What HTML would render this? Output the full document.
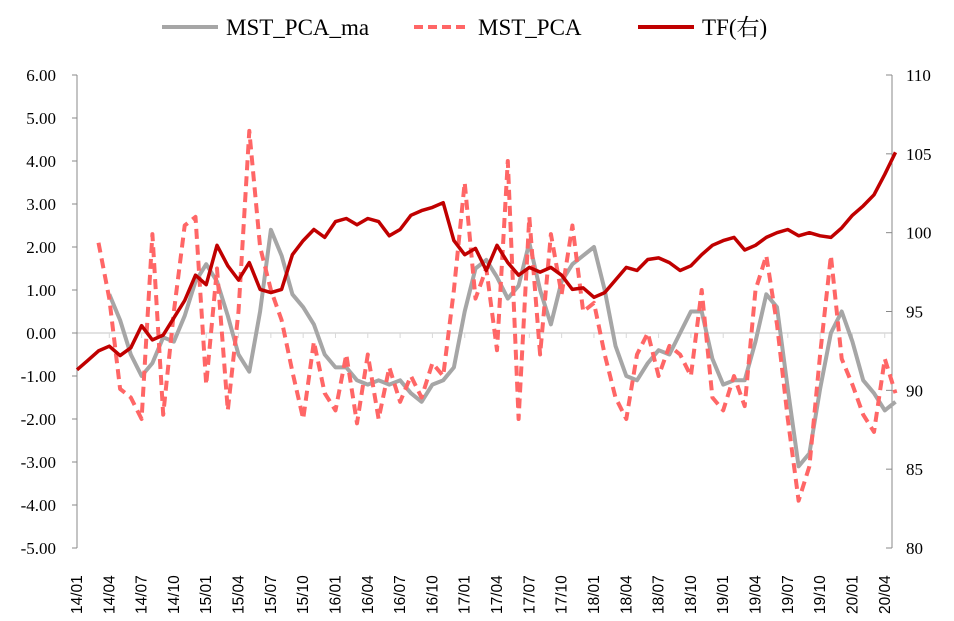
<!DOCTYPE html>
<html><head><meta charset="utf-8"><style>
body{margin:0;background:#fff;width:954px;height:621px;overflow:hidden}
svg{display:block}
.t{font-family:"Liberation Serif","Noto Serif CJK SC",serif;font-size:17px;fill:#000}
.x{font-family:"Liberation Sans",sans-serif;font-size:15.5px;fill:#000}
</style></head><body>
<svg id="c" width="954" height="621"></svg>
<script>
const months=["14/01","14/04","14/07","14/10","15/01","15/04","15/07","15/10","16/01","16/04","16/07","16/10","17/01","17/04","17/07","17/10","18/01","18/04","18/07","18/10","19/01","19/04","19/07","19/10","20/01","20/04"];
const leftTicks=[6,5,4,3,2,1,0,-1,-2,-3,-4,-5];
const rightTicks=[110,105,100,95,90,85,80];
const tf=[91.3,91.9,92.5,92.8,92.2,92.7,94.1,93.2,93.5,94.6,95.7,97.3,96.7,99.2,97.9,97.0,98.1,96.4,96.2,96.4,98.6,99.5,100.2,99.7,100.7,100.9,100.5,100.9,100.7,99.8,100.2,101.1,101.4,101.6,101.9,99.5,98.6,99.0,97.6,99.2,98.1,97.3,97.8,97.5,97.8,97.3,96.4,96.5,95.9,96.2,97.0,97.8,97.6,98.3,98.4,98.1,97.6,97.9,98.6,99.2,99.5,99.7,98.9,99.2,99.7,100.0,100.2,99.8,100.0,99.8,99.7,100.3,101.1,101.7,102.4,103.7,105.1];
const maStart=3;
const ma=[0.9,0.3,-0.5,-1.0,-0.7,-0.1,-0.2,0.4,1.2,1.6,1.2,0.4,-0.5,-0.9,0.5,2.4,1.8,0.9,0.6,0.2,-0.5,-0.8,-0.8,-1.1,-1.2,-1.1,-1.2,-1.1,-1.4,-1.6,-1.2,-1.1,-0.8,0.5,1.5,1.7,1.3,0.8,1.1,2.1,1.0,0.2,1.2,1.6,1.8,2.0,1.0,-0.3,-1.0,-1.1,-0.7,-0.4,-0.5,0.0,0.5,0.5,-0.6,-1.2,-1.1,-1.1,-0.2,0.9,0.6,-1.3,-3.1,-2.8,-1.3,0.0,0.5,-0.2,-1.1,-1.4,-1.8,-1.6];
const pcaStart=2;
const pca=[2.1,0.8,-1.3,-1.5,-2.0,2.3,-1.9,0.5,2.5,2.7,-1.2,1.5,-1.8,0.5,4.7,2.0,1.0,0.3,-0.9,-2.0,-0.2,-1.4,-1.8,-0.5,-2.1,-0.5,-2.0,-0.8,-1.6,-1.0,-1.5,-0.7,-1.0,1.0,3.5,0.8,1.5,-0.4,4.0,-2.0,2.7,-0.5,2.3,0.9,2.5,0.5,0.7,-0.5,-1.5,-2.0,-0.5,0.0,-1.0,-0.3,-0.5,-1.0,1.0,-1.5,-1.8,-1.0,-1.7,1.0,1.8,0.2,-2.0,-3.9,-3.1,-0.5,1.8,-0.6,-1.2,-1.9,-2.3,-0.6,-1.4];

const X0=77,PXM=10.77,TOP=75,BOT=548;
const xs=m=>X0+m*PXM;
const yl=v=>TOP+(6-v)*(BOT-TOP)/11;
const yr=v=>TOP+(110-v)*(BOT-TOP)/30;
const svg=document.getElementById('c');
const NS="http://www.w3.org/2000/svg";
function mk(tag,attrs,parent){const e=document.createElementNS(NS,tag);for(const k in attrs)e.setAttribute(k,attrs[k]);(parent||svg).appendChild(e);return e;}

let zl=mk('line',{x1:X0,x2:892,y1:yl(0),y2:yl(0),stroke:'#d9d9d9','stroke-width':1.5});


months.forEach((m,i)=>{
  const x=xs(i*3);
  let tk=mk('line',{x1:x,x2:x,y1:yl(0),y2:yl(0)+5,stroke:'#d9d9d9'});
  
  
  let t=mk('text',{class:'x',transform:`translate(${x+5},614) rotate(-90)`});
  t.textContent=m;
  
  
});
let la=mk('line',{x1:X0,x2:X0,y1:TOP,y2:BOT,stroke:'#888','stroke-width':1});


let ra=mk('line',{x1:892,x2:892,y1:TOP,y2:BOT,stroke:'#888','stroke-width':1});


leftTicks.forEach(v=>{
  let tk=mk('line',{x1:X0-5,x2:X0,y1:yl(v),y2:yl(v),stroke:'#888'});
  
  
  let t=mk('text',{class:'t',x:56,y:yl(v)+6,'text-anchor':'end'});
  t.textContent=v.toFixed(2);
  
  
});
rightTicks.forEach(v=>{
  let tk=mk('line',{x1:886,x2:892,y1:yr(v),y2:yr(v),stroke:'#888'});
  
  
  let t=mk('text',{class:'t',x:906,y:yr(v)+6});
  t.textContent=v;
  
  
});
function path(arr,start,yf){return arr.map((v,i)=>(i?'L':'M')+xs(start+i).toFixed(1)+','+yf(v).toFixed(1)).join('');}
let p1=mk('path',{d:path(ma,maStart,yl),fill:'none',stroke:'#a6a6a6','stroke-width':4,'stroke-linejoin':'round'});


let p2=mk('path',{d:path(pca,pcaStart,yl),fill:'none',stroke:'#ff6666','stroke-width':4,'stroke-dasharray':'10,6','stroke-linejoin':'round'});


let p3=mk('path',{d:path(tf,0,yr),fill:'none',stroke:'#c00000','stroke-width':3.5,'stroke-linejoin':'round'});


const lg=mk('g',{});


const items=[["MST_PCA_ma",162,'#a6a6a6',null],["MST_PCA",414,'#ff6666','9,5'],["TF(右)",638,'#c00000',null]];
items.forEach(([lab,x,c,d])=>{
  const g=mk('g',{},lg);
  
  
  const a={x1:x,x2:x+56,y1:27,y2:27,stroke:c,'stroke-width':4};
  if(d)a['stroke-dasharray']=d;
  mk('line',a,g);
  const t=mk('text',{class:'t',x:x+64,y:35,style:'font-size:23px'},g);
  t.textContent=lab;
});
</script>
</body></html>
